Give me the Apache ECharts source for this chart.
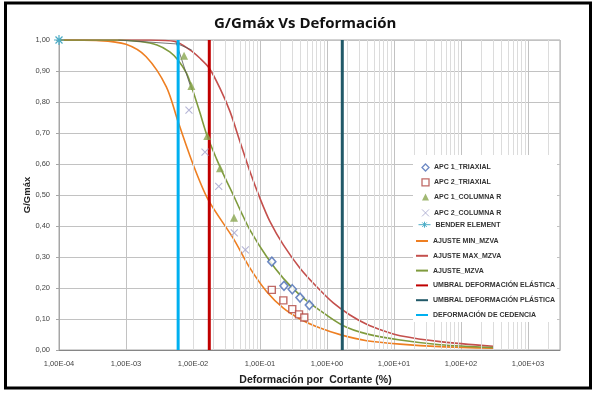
<!DOCTYPE html>
<html>
<head>
<meta charset="utf-8">
<script src="https://cdn.jsdelivr.net/npm/echarts@6/dist/echarts.min.js"></script>
<style>
  html, body { margin: 0; padding: 0; background: #fff; }
  #chart { width: 600px; height: 394px; }
</style>
</head>
<body>
<div id="chart"></div>
<script>
// ---- data (strain %, G/Gmax) ----
const apc1TriaxStrain = [0.150, 0.228, 0.303, 0.395, 0.545];
const apc1TriaxG      = [0.285, 0.207, 0.196, 0.169, 0.145];

const apc2TriaxStrain = [0.150, 0.223, 0.303, 0.382, 0.458];
const apc2TriaxG      = [0.194, 0.160, 0.132, 0.115, 0.105];

const apc1ColStrain = [0.00735, 0.00945, 0.0163, 0.0253, 0.0409];
const apc1ColG      = [0.949, 0.852, 0.690, 0.586, 0.427];

const apc2ColStrain = [0.0087, 0.0151, 0.0242, 0.0413, 0.0604];
const apc2ColG      = [0.774, 0.638, 0.528, 0.378, 0.323];

const benderStrain = [0.0001];
const benderG      = [1.0];

const minStrain = [0.0001, 0.0004, 0.001, 0.002, 0.004, 0.006, 0.0101, 0.0169, 0.0399, 0.0709, 0.126, 0.223, 0.395, 0.702, 1.66, 3.91, 12.3, 48.6, 300];
const minG      = [1.0, 0.998, 0.986, 0.946, 0.849, 0.736, 0.597, 0.484, 0.360, 0.264, 0.188, 0.135, 0.100, 0.075, 0.048, 0.030, 0.019, 0.011, 0.006];

const maxStrain = [0.0001, 0.0023, 0.0054, 0.009, 0.0127, 0.0175, 0.0253, 0.0357, 0.0503, 0.0709, 0.1, 0.141, 0.223, 0.395, 0.702, 1.24, 2.2, 3.91, 6.92, 12.3, 48.6, 300];
const maxG      = [1.0, 1.0, 0.995, 0.968, 0.941, 0.909, 0.844, 0.769, 0.672, 0.575, 0.489, 0.414, 0.339, 0.264, 0.204, 0.152, 0.113, 0.083, 0.062, 0.046, 0.027, 0.012];

const fitStrain = [0.0001, 0.00077, 0.0016, 0.0029, 0.0045, 0.006, 0.008, 0.0095, 0.0127, 0.0163, 0.0226, 0.0301, 0.0399, 0.0533, 0.0709, 0.126, 0.223, 0.395, 0.702, 1.69, 3.91, 12.3, 48.6, 300];
const fitG      = [1.0, 1.0, 0.995, 0.984, 0.962, 0.935, 0.893, 0.850, 0.765, 0.690, 0.615, 0.555, 0.500, 0.441, 0.387, 0.301, 0.231, 0.177, 0.135, 0.080, 0.052, 0.032, 0.017, 0.008];

const auxAStrain = [0.00077, 0.00595, 0.00955];
const auxAG      = [1.0, 0.987, 0.968];
const auxBStrain = [0.0056, 0.00955];
const auxBG      = [0.992, 0.839];

const elasticStrain = 0.0175;
const plasticStrain = 1.69;
const yieldStrain = 0.006;

const xDecades = [-4, -3, -2, -1, 0, 1, 2, 3];
const xMin = 0.0001;
const xMax = 3000;

const colors = {
  apc1Triax: '#4a6db5', apc2Triax: '#b04540', apc1Col: '#8aa650', apc2Col: '#a3a3cc',
  bender: '#4bacc6', min: '#ee7f22', max: '#c4504d', fit: '#7f9b3d',
  elastic: '#c00000', plastic: '#215968', yield: '#00b0f0'
};

const xMark = 'path://M0,0L10,10M10,0L0,10';
const asterisk = 'path://M5,0L5,10M0,5L10,5M1.5,1.5L8.5,8.5M8.5,1.5L1.5,8.5';
const benderIcon = 'path://M0,5L16,5M8,1L8,9M5,2L11,8M11,2L5,8';

const zip = (xs, ys) => xs.map((x, i) => [x, ys[i]]);

// minor log gridlines (2..9 x 10^k) inside the axis range
const minorGrid = [];
xDecades.forEach(k => {
  for (let m = 2; m <= 9; m++) {
    const v = m * Math.pow(10, k);
    if (v < xMax) minorGrid.push({ xAxis: v });
  }
});

const chart = echarts.init(document.getElementById('chart'));
const font = 'Liberation Sans';
const legendText = { fontFamily: font, fontSize: 7, lineHeight: 10, color: '#333', fontWeight: 'bold' };
const rowStep = 14.8;
const firstRow = 166;

const curve = (name, xs, ys, color) => ({
  name, type: 'line', data: zip(xs, ys), symbol: 'none', smooth: 0.3,
  lineStyle: { color, width: 1.6 }, itemStyle: { color }, z: 3
});
const vline = (name, x, color) => ({
  name, type: 'line', data: [[x, 0], [x, 1]], symbol: 'none',
  lineStyle: { color, width: 3 }, itemStyle: { color }, z: 4
});
const thin = (xs, ys) => ({
  type: 'line', data: zip(xs, ys), symbol: 'none',
  lineStyle: { color: '#555', width: 0.8 }, z: 3, silent: true
});
const lineItem = (name, color) => ({ name, icon: 'rect', itemStyle: { color, borderWidth: 0 } });

const option = {
  animation: false,
  backgroundColor: '#fff',
  title: {
    text: 'G/Gmáx Vs Deformación',
    left: 209, top: 11,
    textStyle: { fontFamily: 'Open Sans', fontWeight: 'bold', fontSize: 15, color: '#111' }
  },
  graphic: [
    {
      type: 'rect', shape: { x: 413, y: 155, width: 144, height: 167 },
      style: { fill: '#fff' }, silent: true, z: 6
    },
    {
      type: 'rect', shape: { x: 5.5, y: 3, width: 585, height: 385 },
      style: { fill: 'none', stroke: '#000', lineWidth: 3 }, silent: true, z: 100
    }
  ],
  grid: {
    left: 59, right: 40, top: 40, bottom: 44,
    show: true, borderColor: '#a6a6a6', borderWidth: 1
  },
  legend: [
    {
      data: [
        { name: 'APC 1_TRIAXIAL', icon: 'diamond', itemStyle: { color: '#fff', borderColor: colors.apc1Triax, borderWidth: 1.3 } },
        { name: 'APC 2_TRIAXIAL', icon: 'rect', itemStyle: { color: '#fff', borderColor: colors.apc2Triax, borderWidth: 1.3 } },
        { name: 'APC 1_COLUMNA R', icon: 'triangle', itemStyle: { color: colors.apc1Col, borderWidth: 0 } },
        { name: 'APC 2_COLUMNA R', icon: xMark, itemStyle: { color: 'none', borderColor: colors.apc2Col, borderWidth: 1 } }
      ],
      orient: 'vertical', left: 419.5, top: firstRow - 3.5, padding: 0,
      itemGap: rowStep - 10, itemWidth: 7, itemHeight: 7, z: 10,
      textStyle: legendText
    },
    {
      data: [
        { name: 'BENDER ELEMENT', icon: benderIcon, itemStyle: { color: 'none', borderColor: colors.bender, borderWidth: 1 } }
      ],
      orient: 'vertical', left: 416, top: firstRow + 4 * rowStep - 6, padding: 0,
      itemWidth: 12, itemHeight: 8, z: 10,
      textStyle: legendText
    },
    {
      data: [
        lineItem('AJUSTE MIN_MZVA', colors.min),
        lineItem('AJUSTE MAX_MZVA', colors.max),
        lineItem('AJUSTE_MZVA', colors.fit),
        lineItem('UMBRAL DEFORMACIÓN ELÁSTICA', colors.elastic),
        lineItem('UMBRAL DEFORMACIÓN PLÁSTICA', colors.plastic),
        lineItem('DEFORMACIÓN DE CEDENCIA', colors.yield)
      ],
      orient: 'vertical', left: 416, top: firstRow + 5 * rowStep - 4, padding: 0,
      itemGap: rowStep - 10, itemWidth: 12, itemHeight: 2, z: 10,
      textStyle: legendText
    }
  ],
  xAxis: {
    type: 'log', logBase: 10, min: xMin, max: xMax,
    name: 'Deformación por  Cortante (%)',
    nameLocation: 'middle', nameGap: 25,
    nameTextStyle: { fontFamily: font, fontWeight: 'bold', fontSize: 10.5, color: '#222', padding: [0, 0, 0, 12] },
    axisLine: { lineStyle: { color: '#868686', width: 1 } },
    axisTick: { show: false },
    axisLabel: {
      margin: 10, fontFamily: font, fontSize: 7.5, color: '#444',
      formatter: v => {
        const e = Math.log10(v);
        const k = Math.round(e);
        if (Math.abs(e - k) > 1e-6) return '';
        return '1,00E' + (k < 0 ? '-' : '+') + String(Math.abs(k)).padStart(2, '0');
      }
    },
    splitLine: { show: true, lineStyle: { color: '#c2c2c2', width: 1 } }
  },
  yAxis: {
    type: 'value', min: 0, max: 1, interval: 0.1,
    name: 'G/Gmáx', nameLocation: 'middle', nameGap: 27, nameRotate: 90,
    nameMoveOverlap: false,
    nameTextStyle: { fontFamily: font, fontWeight: 'bold', fontSize: 9.5, color: '#222' },
    axisLine: { show: true, lineStyle: { color: '#a6a6a6' } },
    axisTick: { show: true, length: 3, lineStyle: { color: '#a6a6a6' } },
    axisLabel: {
      margin: 9, fontFamily: font, fontSize: 7.5, color: '#444',
      formatter: v => v.toFixed(2).replace('.', ',')
    },
    splitLine: { lineStyle: { color: '#c2c2c2', width: 1 } }
  },
  series: [
    {
      type: 'line', data: [], z: 0, silent: true,
      markLine: {
        silent: true, symbol: ['none', 'none'], label: { show: false },
        lineStyle: { type: 'solid', color: '#dcdcdc', width: 1 },
        emphasis: { disabled: true },
        data: minorGrid
      }
    },
    {
      name: 'APC 1_TRIAXIAL', type: 'scatter', data: zip(apc1TriaxStrain, apc1TriaxG),
      symbol: 'diamond', symbolSize: [8, 9],
      itemStyle: { color: '#fff', borderColor: colors.apc1Triax, borderWidth: 1.6 }, z: 5
    },
    {
      name: 'APC 2_TRIAXIAL', type: 'scatter', data: zip(apc2TriaxStrain, apc2TriaxG),
      symbol: 'rect', symbolSize: 7,
      itemStyle: { color: '#fff', borderColor: colors.apc2Triax, borderWidth: 1.4 }, z: 5
    },
    {
      name: 'APC 1_COLUMNA R', type: 'scatter', data: zip(apc1ColStrain, apc1ColG),
      symbol: 'triangle', symbolSize: 8,
      itemStyle: { color: colors.apc1Col }, z: 5
    },
    {
      name: 'APC 2_COLUMNA R', type: 'scatter', data: zip(apc2ColStrain, apc2ColG),
      symbol: xMark, symbolSize: 7,
      itemStyle: { color: 'none', borderColor: colors.apc2Col, borderWidth: 1.1 }, z: 5
    },
    {
      name: 'BENDER ELEMENT', type: 'line', data: zip(benderStrain, benderG),
      symbol: asterisk, symbolSize: 10, showSymbol: true,
      lineStyle: { color: colors.bender, width: 1.6 },
      itemStyle: { color: 'none', borderColor: colors.bender, borderWidth: 1.2 }, z: 5
    },
    curve('AJUSTE MIN_MZVA', minStrain, minG, colors.min),
    curve('AJUSTE MAX_MZVA', maxStrain, maxG, colors.max),
    curve('AJUSTE_MZVA', fitStrain, fitG, colors.fit),
    thin(auxAStrain, auxAG),
    thin(auxBStrain, auxBG),
    vline('UMBRAL DEFORMACIÓN ELÁSTICA', elasticStrain, colors.elastic),
    vline('UMBRAL DEFORMACIÓN PLÁSTICA', plasticStrain, colors.plastic),
    vline('DEFORMACIÓN DE CEDENCIA', yieldStrain, colors.yield)
  ]
};

chart.setOption(option);
</script>
</body>
</html>
